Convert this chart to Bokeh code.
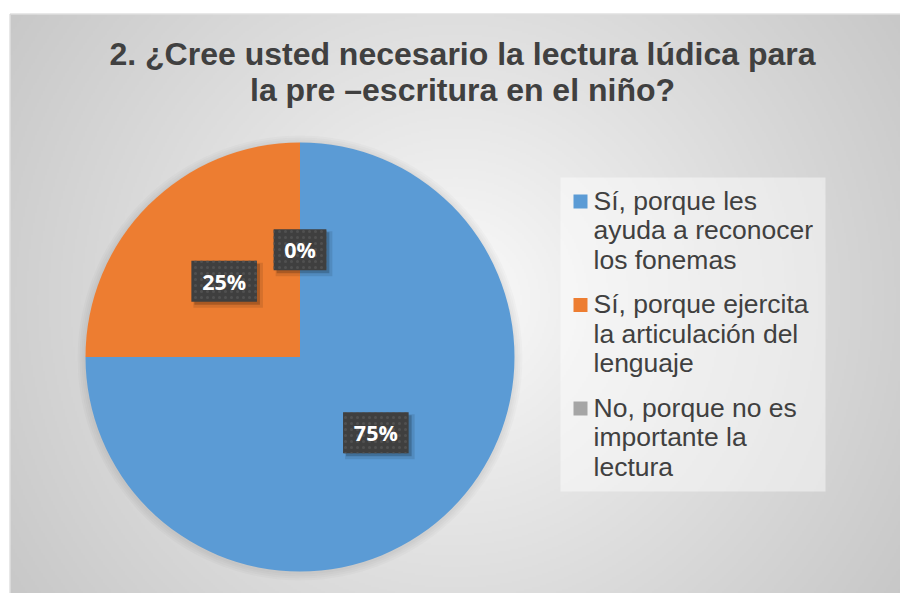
import numpy as np
from bokeh.plotting import figure
from bokeh.models import Range1d, ColumnDataSource
from bokeh.core.properties import value
from bokeh.embed import file_html
from bokeh.resources import INLINE

# ---------------- data ----------------
title_lines = ["2. ¿Cree usted necesario la lectura lúdica para",
               "la pre –escritura en el niño?"]
categories = ["Sí, porque les\nayuda a reconocer\nlos fonemas",
              "Sí, porque ejercita\nla articulación del\nlenguaje",
              "No, porque no es\nimportante la\nlectura"]
percentages = [75, 25, 0]
colors = ["#5B9BD5", "#ED7D31", "#A5A5A5"]

# ---------------- layout helpers (page pixel -> data) ----------------
W, H = 900, 593


def px(x):
    return x


def py(y):
    return H - y


p = figure(width=W, height=H, x_range=Range1d(0, W), y_range=Range1d(0, H),
           output_backend="svg", toolbar_location=None, min_border=0)
p.axis.visible = False
p.grid.visible = False
p.outline_line_color = None
p.background_fill_color = "white"
p.border_fill_color = "white"

# ---------------- background radial gradient ----------------
x0, x1 = 10, 900
y0, y1 = 14, 593
nx, ny = 445, 290
cx, cy = 455, 300
ii = (np.arange(nx) + 0.5) * (x1 - x0) / nx + x0
jj = y1 - (np.arange(ny) + 0.5) * (y1 - y0) / ny
XX, YY = np.meshgrid(ii, jj)
d = np.sqrt((XX - cx) ** 2 + (YY - cy) ** 2) / 530.0
d = np.clip(d, 0, 1.05) ** 0.9
g = np.clip(252 - 52 * d, 0, 255).astype(np.uint32)
img = (255 << 24) | (g << 16) | (g << 8) | g
p.image_rgba(image=[img.astype(np.uint32)], x=px(x0), y=py(y1),
             dw=x1 - x0, dh=y1 - y0)
# thin border of chart area
p.line([px(9.5), px(9.5), px(900)], [py(593), py(13.5), py(13.5)],
       line_color="#d0d0d0", line_width=1)

# ---------------- pie ----------------
pcx, pcy, R = px(299.5), py(356.5), 214.5
for k, extra in enumerate([8, 6, 4, 2]):
    p.circle(x=[pcx], y=[pcy - 1], radius=R + extra, fill_color="black",
             fill_alpha=0.018, line_color=None)

total = float(sum(percentages))
starts, ends, mids = [], [], []
a = 90.0
for v in percentages:
    sweep = v / total * 360.0
    starts.append(np.radians(a))
    ends.append(np.radians(a - sweep))
    mids.append(np.radians(a - sweep / 2))
    a -= sweep

src = ColumnDataSource(dict(
    start=[s for s, v in zip(starts, percentages) if v > 0],
    end=[e for e, v in zip(ends, percentages) if v > 0],
    color=[c for c, v in zip(colors, percentages) if v > 0],
))
p.wedge(x=pcx, y=pcy, radius=R, start_angle="start", end_angle="end",
        direction="clock", fill_color="color", line_color=None, source=src)

# ---------------- data labels ----------------
fs = 21.5
lab_txt = [f"{v}%" for v in percentages]
lx = [pcx + 0.5 * R * np.cos(m) for m in mids]
ly = [pcy + 0.5 * R * np.sin(m) for m in mids]
lw = [21 + 22.5 * (0.572 * (len(t) - 1) + 0.838) for t in lab_txt]
lh = 41
p.rect(x=[x + 4 for x in lx], y=[y - 4 for y in ly], width=[w + 4 for w in lw],
       height=lh + 4, fill_color="black", fill_alpha=0.10, line_color=None)
p.rect(x=[x + 3 for x in lx], y=[y - 3 for y in ly], width=lw, height=lh,
       fill_color="black", fill_alpha=0.20, line_color=None)
p.rect(x=lx, y=ly, width=lw, height=lh, fill_color="#3f3f3f", line_color=None,
       hatch_pattern="dot", hatch_color="#505050", hatch_scale=6, hatch_weight=1)
p.text(x=lx, y=ly, text=lab_txt, text_align="center", text_baseline="middle",
       text_font=value("Open Sans"), text_font_style="bold",
       text_font_size=f"{fs}px", text_color="white")

# ---------------- title ----------------
p.text(x=[px(462), px(462)], y=[py(53), py(89)], text=title_lines,
       text_align="center", text_baseline="alphabetic",
       text_font=value("Liberation Sans"), text_font_style="bold",
       text_font_size="32px", text_color="#404040")

# ---------------- legend ----------------
p.quad(left=[px(560)], right=[px(825)], top=[py(177)], bottom=[py(491)],
       fill_color="white", fill_alpha=0.45, line_color=None)
item_y = [200 + i * 103.5 for i in range(len(categories))]
tx, ty, tt = [], [], []
for i, cat in enumerate(categories):
    for j, line in enumerate(cat.split("\n")):
        tx.append(px(593))
        ty.append(py(item_y[i] + j * 29.7))
        tt.append(line)
p.rect(x=[px(580)] * len(categories), y=[py(y + 1) for y in item_y],
       width=14, height=14, fill_color=colors, line_color=None)
p.text(x=tx, y=ty, text=tt, text_align="left", text_baseline="alphabetic",
       text_font=value("Liberation Sans"), text_font_size="26.5px",
       text_color="#404040")

open("out.html", "w").write(file_html(p, INLINE))
